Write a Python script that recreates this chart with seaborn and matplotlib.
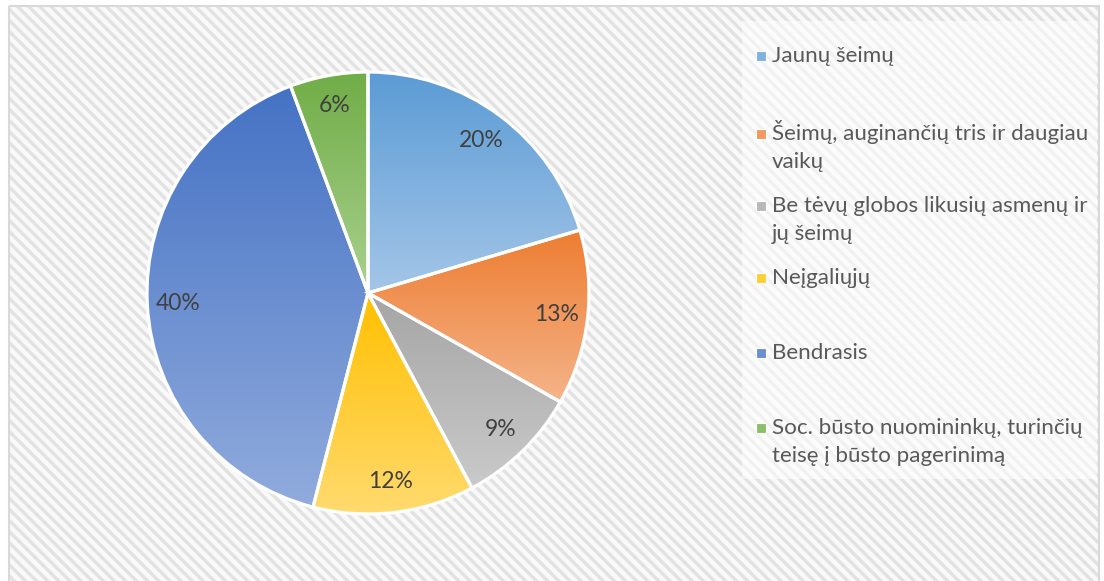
import numpy as np
import matplotlib
matplotlib.use("Agg")
import matplotlib.pyplot as plt
import seaborn as sns
from matplotlib.patches import Rectangle
from matplotlib.colors import to_rgb

# ---- data ----
categories = [
    "Jaunų šeimų",
    "Šeimų, auginančių tris ir daugiau\nvaikų",
    "Be tėvų globos likusių asmenų ir\njų šeimų",
    "Neįgaliųjų",
    "Bendrasis",
    "Soc. būsto nuomininkų, turinčių\nteisę į būsto pagerinimą",
]
shares = [20.4, 12.8, 9.0, 11.8, 40.3, 5.7]
top_colors = ["#5B9BD5", "#ED7D31", "#A5A5A5", "#FFC000", "#4472C4", "#70AD47"]
bottom_colors = ["#A4C6E8", "#F5B48A", "#CACACA", "#FFDA6E", "#91ABDD", "#AAD18F"]

sns.set_theme(style="white")
plt.rcParams["font.family"] = ["Lato", "DejaVu Sans"]
plt.rcParams["hatch.linewidth"] = 2.4

W, H = 1104, 581
fig = plt.figure(figsize=(W / 100, H / 100), dpi=100)
fig.patch.set_facecolor("white")

# background axes in pixel coordinates
bg = fig.add_axes([0, 0, 1, 1], zorder=0)
bg.set_xlim(0, W)
bg.set_ylim(H, 0)
bg.axis("off")
bg.add_patch(Rectangle((9, 6), 1090, 580, facecolor="#f9f9f9", edgecolor="#e2e2e2",
                       hatch="\\" * 3, linewidth=0, zorder=1))
bg.add_patch(Rectangle((9, 6), 1090, 580, facecolor="none", edgecolor="#d9d9d9",
                       linewidth=1.5, zorder=2))
# legend area (lighter)
bg.add_patch(Rectangle((742, 21), 355, 458, facecolor="white", edgecolor="none",
                       alpha=0.55, zorder=3))

# legend entries
first_baselines = [62, 140, 212, 284, 359, 434]
line_gap = 28.5
for i, lab in enumerate(categories):
    yb = first_baselines[i]
    mid = tuple((np.array(to_rgb(top_colors[i])) + np.array(to_rgb(bottom_colors[i]))) / 2)
    bg.add_patch(Rectangle((755.5, yb - 11.5), 10, 10, facecolor=mid,
                           edgecolor="white", linewidth=0.8, zorder=4))
    for j, line in enumerate(lab.split("\n")):
        bg.text(772, yb + j * line_gap, line, fontsize=16.1, color="#595959",
                va="baseline", ha="left", zorder=5)

# pie axes
cx, cy, R = 368, 293, 221
ax = fig.add_axes([(cx - R) / W, (H - cy - R) / H, 2 * R / W, 2 * R / H], zorder=1)
ax.patch.set_alpha(0)
wedges, texts, autotexts = ax.pie(
    shares, colors=top_colors, startangle=90, counterclock=False,
    autopct="%.0f%%", pctdistance=0.86, radius=1.0,
    wedgeprops=dict(edgecolor="white", linewidth=2.3),
    textprops=dict(fontsize=16.5, color="#404040"),
)
for i, w in enumerate(wedges):
    ext = w.get_path().get_extents()
    c0 = np.array(to_rgb(top_colors[i]))
    c1 = np.array(to_rgb(bottom_colors[i]))
    t = np.linspace(0, 1, 256)[:, None, None]
    grad = c0[None, None, :] * (1 - t) + c1[None, None, :] * t
    im = ax.imshow(grad, extent=[ext.x0, ext.x1, ext.y0, ext.y1], origin="upper",
                   aspect="auto", interpolation="bilinear", zorder=1)
    im.set_clip_path(w)
    w.set_facecolor("none")
    w.set_zorder(2)
for t in autotexts:
    t.set_zorder(3)
ax.set_xlim(-1.0, 1.0)
ax.set_ylim(-1.0, 1.0)
ax.set_aspect("equal")
ax.axis("off")

fig.savefig("out.png", dpi=100, facecolor="white")
